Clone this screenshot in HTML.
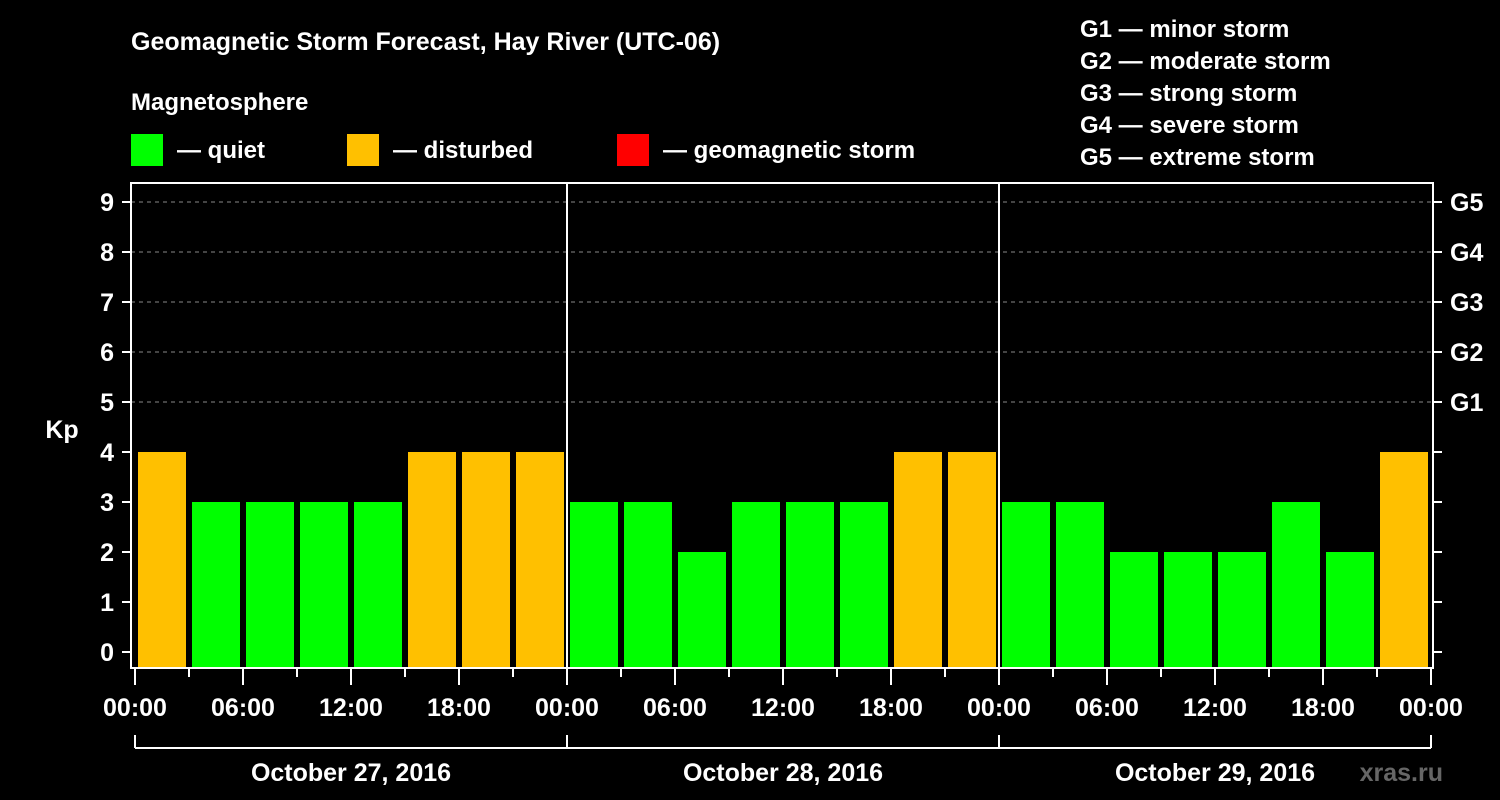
<!DOCTYPE html>
<html><head><meta charset="utf-8"><style>
body{margin:0;background:#000;width:1500px;height:800px;overflow:hidden}
svg{display:block;font-family:"Liberation Sans",Arial,sans-serif;font-weight:bold}
</style></head><body>
<svg id="chart" width="1500" height="800" viewBox="0 0 1500 800">
<rect width="1500" height="800" fill="#000"/>
<text x="131" y="50" fill="#fff" font-size="25">Geomagnetic Storm Forecast, Hay River (UTC-06)</text>
<text x="131" y="110" fill="#fff" font-size="24">Magnetosphere</text>
<g><rect x="131" y="134" width="32" height="32" fill="#00ff00"/><text x="177" y="158" fill="#fff" font-size="24">— quiet</text></g>
<g><rect x="347" y="134" width="32" height="32" fill="#ffc000"/><text x="393" y="158" fill="#fff" font-size="24">— disturbed</text></g>
<g><rect x="617" y="134" width="32" height="32" fill="#ff0000"/><text x="663" y="158" fill="#fff" font-size="24">— geomagnetic storm</text></g>
<g fill="#fff" font-size="24">
<text x="1080" y="37">G1 — minor storm</text>
<text x="1080" y="69">G2 — moderate storm</text>
<text x="1080" y="101">G3 — strong storm</text>
<text x="1080" y="133">G4 — severe storm</text>
<text x="1080" y="165">G5 — extreme storm</text>
</g>
<text x="62" y="438" fill="#fff" font-size="25" text-anchor="middle">Kp</text>
<text x="1443" y="781" fill="#666" font-size="25" text-anchor="end">xras.ru</text>
<g id="grid"></g><g id="bars"></g><g id="axes"></g>
</svg>
<script>
const kpValues=[4,3,3,3,3,4,4,4, 3,3,2,3,3,3,4,4, 3,3,2,2,2,3,2,4];
const dayLabels=["October 27, 2016","October 28, 2016","October 29, 2016"];
const yTicks=[0,1,2,3,4,5,6,7,8,9];
const gLabels=["G1","G2","G3","G4","G5"];
const hourLabels=["00:00","06:00","12:00","18:00"];
const NS="http://www.w3.org/2000/svg";
const X0=135,SLOT=54,Y0=652,UNIT=50,LEFT=131,RIGHT=1433,TOP=183,BOT=668;
const xs=i=>X0+i*SLOT, ys=v=>Y0-v*UNIT;
function mk(t,a,p){const e=document.createElementNS(NS,t);for(const k in a)e.setAttribute(k,a[k]);p.appendChild(e);return e;}
const grid=document.getElementById('grid'),bars=document.getElementById('bars'),axes=document.getElementById('axes');
yTicks.forEach(v=>{
  if(v>=5){const l=mk('line',{x1:LEFT,x2:RIGHT,y1:ys(v),y2:ys(v),stroke:'#888','stroke-width':1,'stroke-dasharray':'4,4'},grid);
  
  }
  mk('line',{x1:122,x2:LEFT,y1:ys(v),y2:ys(v),stroke:'#fff','stroke-width':2},axes);
  mk('line',{x1:RIGHT,x2:1442,y1:ys(v),y2:ys(v),stroke:'#fff','stroke-width':2},axes);
  const t=mk('text',{x:114,y:ys(v)+9,fill:'#fff','font-size':25,'text-anchor':'end'},axes);t.textContent=v;
  
  
});
gLabels.forEach((g,i)=>{const t=mk('text',{x:1450,y:ys(5+i)+9,fill:'#fff','font-size':25},axes);t.textContent=g;
  
  });
kpValues.forEach((v,i)=>{
  const c=v>=5?'#ff0000':(v>=4?'#ffc000':'#00ff00');
  const r=mk('rect',{x:xs(i)+3,y:ys(v),width:48,height:BOT-ys(v),fill:c},bars);
  
  
});
mk('rect',{x:LEFT,y:TOP,width:RIGHT-LEFT,height:BOT-TOP,fill:'none',stroke:'#fff','stroke-width':2},axes);
for(let d=1;d<dayLabels.length;d++)mk('line',{x1:xs(d*8),x2:xs(d*8),y1:TOP,y2:BOT,stroke:'#fff','stroke-width':2},axes);
for(let i=0;i<=kpValues.length;i++){
  mk('line',{x1:xs(i),x2:xs(i),y1:BOT,y2:i%2==0?685:677,stroke:'#fff','stroke-width':2},axes);
  if(i%2==0){const t=mk('text',{x:xs(i),y:716,fill:'#fff','font-size':25,'text-anchor':'middle'},axes);t.textContent=hourLabels[(i/2)%4];
  
  }
}
mk('line',{x1:xs(0),x2:xs(kpValues.length),y1:748,y2:748,stroke:'#fff','stroke-width':2},axes);
dayLabels.forEach((d,k)=>{
  mk('line',{x1:xs(k*8),x2:xs(k*8),y1:735,y2:748,stroke:'#fff','stroke-width':2},axes);
  const t=mk('text',{x:xs(k*8+4),y:781,fill:'#fff','font-size':25,'text-anchor':'middle'},axes);t.textContent=d;
  
  
});
mk('line',{x1:xs(24),x2:xs(24),y1:735,y2:748,stroke:'#fff','stroke-width':2},axes);
</script>
</body></html>
